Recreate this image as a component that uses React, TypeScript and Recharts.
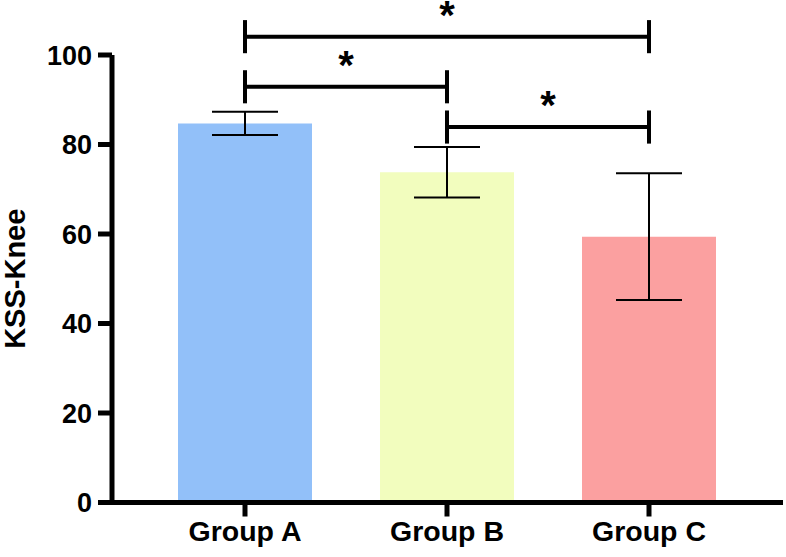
import { BarChart, Bar, XAxis, YAxis, ErrorBar, Cell, ReferenceLine } from 'recharts';

const groups = ['Group A', 'Group B', 'Group C'];
const means = [84.7, 73.8, 59.4];
const sds = [2.6, 5.65, 14.15];
const colors = ['#92C0F9', '#F2FDBE', '#FBA0A0'];
const yTicks = [0, 20, 40, 60, 80, 100];

// significance brackets: [from, to, level]
const brackets: Array<[string, string, number]> = [
  ['Group A', 'Group C', 104.1],
  ['Group A', 'Group B', 92.9],
  ['Group B', 'Group C', 83.9],
];
const capHalf = 3.7;

const data = groups.map((g, i) => ({ name: g, mean: means[i], sd: sds[i] }));

const font = '"Liberation Sans", Arial, sans-serif';

export default function App() {
  return (
    <div style={{ position: 'absolute', left: 0, top: 0 }}>
      <BarChart
        width={786}
        height={557}
        data={data}
        margin={{ top: 55, right: 3, bottom: 0, left: 0 }}
      >
        <XAxis
          dataKey="name"
          height={54.5}
          padding={{ left: 32, right: 33 }}
          axisLine={{ stroke: '#000', strokeWidth: 5 }}
          tickLine={{ stroke: '#000', strokeWidth: 5 }}
          tickSize={14}
          tickMargin={4}
          tick={{ fill: '#000', fontSize: 28.5, fontWeight: 'bold', fontFamily: font }}
        />
        <YAxis
          width={112}
          domain={[0, 100]}
          ticks={yTicks}
          allowDataOverflow
          axisLine={{ stroke: '#000', strokeWidth: 5 }}
          tickLine={{ stroke: '#000', strokeWidth: 5 }}
          tickSize={14}
          tickMargin={6}
          tick={{ fill: '#000', fontSize: 27, fontWeight: 'bold', fontFamily: font }}
          label={{
            value: 'KSS-Knee',
            angle: -90,
            position: 'insideLeft',
            offset: 15,
            style: { textAnchor: 'middle', fill: '#000', fontSize: 29, fontWeight: 'bold', fontFamily: font },
          }}
        />
        <Bar dataKey="mean" barSize={134} isAnimationActive={false}>
          {data.map((d, i) => (
            <Cell key={d.name} fill={colors[i]} />
          ))}
          <ErrorBar dataKey="sd" width={33} stroke="#000" strokeWidth={2} direction="y" />
        </Bar>
        {brackets.map(([a, b, y]) => (
          <ReferenceLine
            key={a + b}
            segment={[{ x: a, y }, { x: b, y }]}
            stroke="#000"
            strokeWidth={4}
            ifOverflow="visible"
            label={{ value: '*', position: 'top', offset: 8, fill: '#000', fontSize: 40, fontWeight: 'bold', fontFamily: font }}
          />
        ))}
        {brackets.flatMap(([a, b, y]) =>
          [a, b].map((x) => (
            <ReferenceLine
              key={a + b + x}
              segment={[{ x, y: y - capHalf }, { x, y: y + capHalf }]}
              stroke="#000"
              strokeWidth={4}
              ifOverflow="visible"
            />
          ))
        )}
      </BarChart>
    </div>
  );
}
